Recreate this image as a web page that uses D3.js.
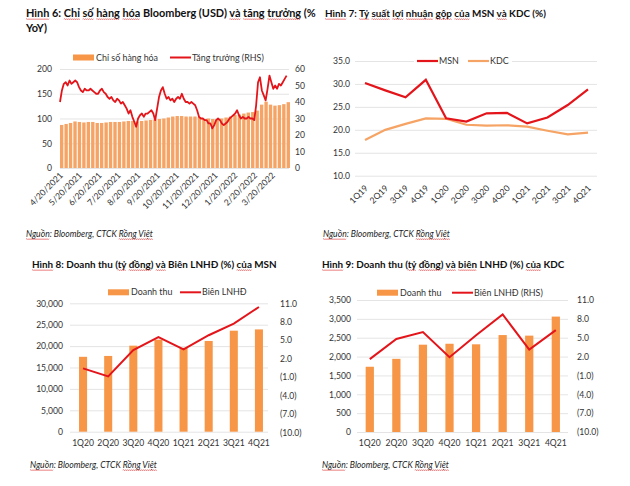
<!DOCTYPE html>
<html><head><meta charset="utf-8">
<script src="https://cdn.jsdelivr.net/npm/d3@7"></script>
<style>
body{margin:0;background:#fff}
svg{display:block}
text{font-family:Lato,"Noto Sans",sans-serif;fill:#333}
.title{font-weight:700;fill:#111;font-size:9.9px}
.title1{font-size:10.9px}
.src{font-style:italic;fill:#222;font-size:8.6px}
.leg{font-size:8.9px;fill:#333}
.tick text{font-size:8.6px;fill:#333;font-family:Lato,"Noto Sans",sans-serif}
</style>
</head><body>
<svg id="c" width="630" height="486"></svg>
<script>
// ---------- DATA ----------
// Panel 1 (Hình 6): weekly Bloomberg commodity index bars from 4/20/2021, growth line every 3 days
const p1Start = "4/20/2021";
const p1TickLabels = ["4/20/2021","5/20/2021","6/20/2021","7/20/2021","8/20/2021","9/20/2021","10/20/2021","11/20/2021","12/20/2021","1/20/2022","2/20/2022","3/20/2022"];
const p1IndexValues = [87,89,91,94,93,92,93,93,91,91,92,93,93,93,94,95,95,94,95,96,97,98,99,100,102,104,105,105,104,104,104,103,99,100,99,99,100,102,104,107,108,110,112,113,116,128,134,128,126,127,129,133];
const p1GrowthValues = [40,47,51,52,50,53,51,52,53,52,49,47,46,48,47,47,48,47,46,45,45,47,48,46,45,43,42,43,41,40,42,41,39,40,38,36,33,35,31,28,25,30,32,33,31,33,33,34,35,33,29,36,43,47,49,45,42,43,41,42,40,42,43,42,45,42,40,40,39,40,39,38,35,31,30,30,29,29,27,27,24,26,29,30,29,27,26,27,28,30,31,32,33,35,32,30,31,30,30,31,30,30,29,38,52,55,47,44,41,48,56,52,48,50,48,51,50,52,54,56];
const p1LeftTicks = [0,50,100,150,200];
const p1RightTicks = [0,10,20,30,40,50,60];

// Panel 2 (Hình 7)
const p2Quarters = ["1Q19","2Q19","3Q19","4Q19","1Q20","2Q20","3Q20","4Q20","1Q21","2Q21","3Q21","4Q21"];
const p2MSN = [30.2,28.6,27.1,30.9,22.5,21.8,23.6,23.7,21.4,22.7,25.4,28.8];
const p2KDC = [17.8,20.0,21.3,22.5,22.4,21.1,20.9,21.0,20.7,19.8,19.0,19.4];
const p2Ticks = [10,15,20,25,30,35];

// Panel 3 (Hình 8) MSN
const p3Quarters = ["1Q20","2Q20","3Q20","4Q20","1Q21","2Q21","3Q21","4Q21"];
const p3Revenue = [17500,17700,20100,21500,19600,21200,23600,23900];
const p3Margin = [0.4,-0.9,3.4,5.5,3.5,5.8,7.7,10.4];
const p3LeftTicks = [0,5000,10000,15000,20000,25000,30000];
const rightTicks = [11,8,5,2,-1,-4,-7,-10];

// Panel 4 (Hình 9) KDC
const p4Quarters = ["1Q20","2Q20","3Q20","4Q20","1Q21","2Q21","3Q21","4Q21"];
const p4Revenue = [1730,1940,2315,2340,2325,2570,2555,3060];
const p4Margin = [1.6,4.8,5.9,1.9,5.4,8.7,3.1,6.2];
const p4LeftTicks = [0,500,1000,1500,2000,2500,3000,3500];

// ---------- STYLE ----------
const RED = "#e3151b", ORANGE = "#f6a465", ORANGE2 = "#f79646", GRID = "#d9d9d9";

const svg = d3.select("#c");
svg.append("rect").attr("width",630).attr("height",486).attr("fill","#fff");

function wavy(g, x0, x1, y){
  let d = `M${x0},${y}`; let up = true;
  for (let x = x0 + 1; x <= x1; x += 1){ d += `L${x},${y + (up ? -0.6 : 0.6)}`; up = !up; }
  g.append("path").attr("d", d).attr("fill","none").attr("stroke","#e03030").attr("stroke-width",0.55);
}
function textU(g, x, y, str, cls, under){
  const t = g.append("text").attr("x",x).attr("y",y).attr("class",cls).text(str);
  const n = t.node();
  (under||[]).forEach(w => {
    const idx = str.indexOf(w); if (idx < 0) return;
    const s = n.getStartPositionOfChar(idx).x, e = n.getEndPositionOfChar(idx + w.length - 1).x;
    wavy(g, s, e, y + 2.2);
  });
  return t;
}
const fmtR = v => v < 0 ? "(" + Math.abs(v).toFixed(1) + ")" : v.toFixed(1);
function styleAxis(sel){ sel.select(".domain").remove(); sel.selectAll("line").remove(); }
function grid(g, y, ticks, x0, x1){
  g.append("g").attr("transform",`translate(${x0},0)`)
   .call(d3.axisLeft(y).tickValues(ticks).tickSize(-(x1-x0)).tickFormat(""))
   .call(s => { s.select(".domain").remove(); s.selectAll("line").attr("stroke",GRID).attr("stroke-width",0.7); });
}
function legendRect(g,x,y,label){ g.append("rect").attr("x",x).attr("y",y-3).attr("width",21).attr("height",6).attr("fill",ORANGE2); g.append("text").attr("class","leg").attr("x",x+23).attr("y",y+3).text(label); }
function legendLine(g,x,y,color,label,w){ g.append("line").attr("x1",x).attr("x2",x+21).attr("y1",y).attr("y2",y).attr("stroke",color).attr("stroke-width",w||2); g.append("text").attr("class","leg").attr("x",x+22).attr("y",y+3).text(label); }

// ---------- PANEL 1 ----------
{
  const g = svg.append("g");
  const parse = d3.timeParse("%m/%d/%Y");
  const start = parse(p1Start);
  const ticks = p1TickLabels.map(parse);
  const x = d3.scaleTime().domain([ticks[0], ticks[ticks.length-1]]).range([60, 272]);
  const yL = d3.scaleLinear().domain([0,200]).range([168,69]);
  const yR = d3.scaleLinear().domain([0,60]).range([168,69]);
  grid(g, yL, p1LeftTicks, 60, 289);
  const bars = p1IndexValues.map((v,i)=>({d:d3.timeDay.offset(start,7*i), v}));
  const bw = x(d3.timeDay.offset(start,7)) - x(start);
  g.selectAll(".b1").data(bars).join("rect").attr("x",d=>x(d.d)).attr("y",d=>yL(d.v))
    .attr("width",bw*0.76).attr("height",d=>yL(0)-yL(d.v)).attr("fill",ORANGE);
  const pts = p1GrowthValues.map((v,i)=>({d:d3.timeDay.offset(start,3*i), v}));
  g.append("path").datum(pts).attr("fill","none").attr("stroke",RED).attr("stroke-width",1.8).attr("stroke-linejoin","round")
    .attr("d", d3.line().x(d=>x(d.d)).y(d=>yR(d.v)));
  g.append("g").attr("transform","translate(60,0)").call(d3.axisLeft(yL).tickValues(p1LeftTicks).tickSize(0).tickPadding(8)).call(styleAxis);
  g.append("g").attr("transform","translate(288,0)").call(d3.axisRight(yR).tickValues(p1RightTicks).tickSize(0).tickPadding(7)).call(styleAxis);
  g.append("g").attr("transform","translate(0,168)").call(d3.axisBottom(x).tickValues(ticks).tickSize(0).tickFormat((d,i)=>p1TickLabels[i]))
    .call(styleAxis).call(s=>s.selectAll("text").attr("x",0).attr("y",0).attr("dy",0).attr("text-anchor","end").attr("transform","translate(3,8) rotate(-45)"));
  textU(g, 26, 17, "Hình 6: Chỉ số hàng hóa Bloomberg (USD) và tăng trưởng (%", "title title1", ["Hình","Chỉ","số","hàng","hóa","và","tăng","trưởng"]);
  textU(g, 26, 32, "YoY)", "title title1", []);
  legendRect(g, 73, 57.5, "Chỉ số hàng hóa");
  legendLine(g, 170, 57.5, RED, "Tăng trưởng (RHS)");
  textU(g, 26, 237, "Nguồn: Bloomberg, CTCK Rồng Việt", "src", ["Nguồn","Rồng Việt"]);
}

// ---------- PANEL 2 ----------
{
  const g = svg.append("g");
  const x = d3.scalePoint().domain(p2Quarters).range([365, 588]);
  const y = d3.scaleLinear().domain([10,35]).range([175.7,61]);
  grid(g, y, p2Ticks, 355, 597);
  const line = d3.line().x((d,i)=>x(p2Quarters[i])).y(d=>y(d));
  g.append("path").datum(p2KDC).attr("fill","none").attr("stroke",ORANGE).attr("stroke-width",2.2).attr("d",line);
  g.append("path").datum(p2MSN).attr("fill","none").attr("stroke",RED).attr("stroke-width",2.2).attr("d",line);
  g.append("g").attr("transform","translate(355,0)").call(d3.axisLeft(y).tickValues(p2Ticks).tickSize(0).tickPadding(5).tickFormat(d=>d.toFixed(1))).call(styleAxis);
  g.append("g").attr("transform","translate(0,175.7)").call(d3.axisBottom(x).tickSize(0))
    .call(styleAxis).call(s=>s.selectAll("text").attr("x",0).attr("y",0).attr("dy",0).attr("text-anchor","end").attr("transform","translate(3,13) rotate(-45)"));
  textU(g, 325, 17, "Hình 7: Tỷ suất lợi nhuận gộp của MSN và KDC (%)", "title", ["Hình","Tỷ","suất","lợi","nhuận","gộp","của","và"]);
  g.append("rect").attr("x",414).attr("y",56).attr("width",98).attr("height",10).attr("fill","#fff");
  legendLine(g, 417, 61, RED, "MSN", 2.2);
  legendLine(g, 468, 61, ORANGE, "KDC", 2.2);
  textU(g, 323, 237, "Nguồn: Bloomberg, CTCK Rồng Việt", "src", ["Nguồn","Rồng Việt"]);
}

// ---------- PANEL 3 ----------
{
  const g = svg.append("g");
  const x = d3.scaleBand().domain(p3Quarters).range([70.5, 271.5]).paddingInner(0.68).paddingOuter(0.34);
  const yL = d3.scaleLinear().domain([0,30000]).range([431.7,303.3]);
  const yR = d3.scaleLinear().domain([-10,11]).range([432.3,303.3]);
  grid(g, yL, p3LeftTicks, 70, 268);
  g.selectAll(".b3").data(p3Revenue).join("rect").attr("x",(d,i)=>x(p3Quarters[i])).attr("y",d=>yL(d))
    .attr("width",x.bandwidth()).attr("height",d=>yL(0)-yL(d)).attr("fill",ORANGE2);
  g.append("path").datum(p3Margin).attr("fill","none").attr("stroke",RED).attr("stroke-width",2)
    .attr("d", d3.line().x((d,i)=>x(p3Quarters[i])+x.bandwidth()/2).y(d=>yR(d)));
  g.append("g").attr("transform","translate(70,0)").call(d3.axisLeft(yL).tickValues(p3LeftTicks).tickSize(0).tickPadding(7).tickFormat(d3.format(","))).call(styleAxis);
  g.append("g").attr("transform","translate(270,0)").call(d3.axisRight(yR).tickValues(rightTicks).tickSize(0).tickPadding(10).tickFormat(fmtR)).call(styleAxis);
  g.append("g").attr("transform","translate(0,432)").call(d3.axisBottom(x).tickSize(0).tickPadding(8)).call(styleAxis);
  textU(g, 32, 268, "Hình 8: Doanh thu (tỷ đồng) và Biên LNHĐ (%) của MSN", "title", ["Hình","tỷ","đồng","và","của"]);
  legendRect(g, 108, 292.3, "Doanh thu");
  legendLine(g, 180, 292.3, RED, "Biên LNHĐ");
  textU(g, 30, 468, "Nguồn: Bloomberg, CTCK Rồng Việt", "src", ["Nguồn","Rồng Việt"]);
}

// ---------- PANEL 4 ----------
{
  const g = svg.append("g");
  const x = d3.scaleBand().domain(p4Quarters).range([356.5, 569.1]).paddingInner(0.69).paddingOuter(0.345);
  const yL = d3.scaleLinear().domain([0,3500]).range([432,300]);
  const yR = d3.scaleLinear().domain([-10,11]).range([432,300]);
  grid(g, yL, p4LeftTicks, 357, 568);
  g.selectAll(".b4").data(p4Revenue).join("rect").attr("x",(d,i)=>x(p4Quarters[i])).attr("y",d=>yL(d))
    .attr("width",x.bandwidth()).attr("height",d=>yL(0)-yL(d)).attr("fill",ORANGE2);
  g.append("path").datum(p4Margin).attr("fill","none").attr("stroke",RED).attr("stroke-width",2)
    .attr("d", d3.line().x((d,i)=>x(p4Quarters[i])+x.bandwidth()/2).y(d=>yR(d)));
  g.append("g").attr("transform","translate(357,0)").call(d3.axisLeft(yL).tickValues(p4LeftTicks).tickSize(0).tickPadding(6).tickFormat(d3.format(","))).call(styleAxis);
  g.append("g").attr("transform","translate(568,0)").call(d3.axisRight(yR).tickValues(rightTicks).tickSize(0).tickPadding(9).tickFormat(fmtR)).call(styleAxis);
  g.append("g").attr("transform","translate(0,432)").call(d3.axisBottom(x).tickSize(0).tickPadding(8)).call(styleAxis);
  textU(g, 322, 268, "Hình 9: Doanh thu (tỷ đồng) và biên LNHĐ (%) của KDC", "title", ["Hình","tỷ","đồng","và","biên","của"]);
  legendRect(g, 377, 292.7, "Doanh thu");
  legendLine(g, 452, 292.7, RED, "Biên LNHĐ (RHS)");
  textU(g, 322, 468, "Nguồn: Bloomberg, CTCK Rồng Việt", "src", ["Nguồn","Rồng Việt"]);
}
</script>
</body></html>
